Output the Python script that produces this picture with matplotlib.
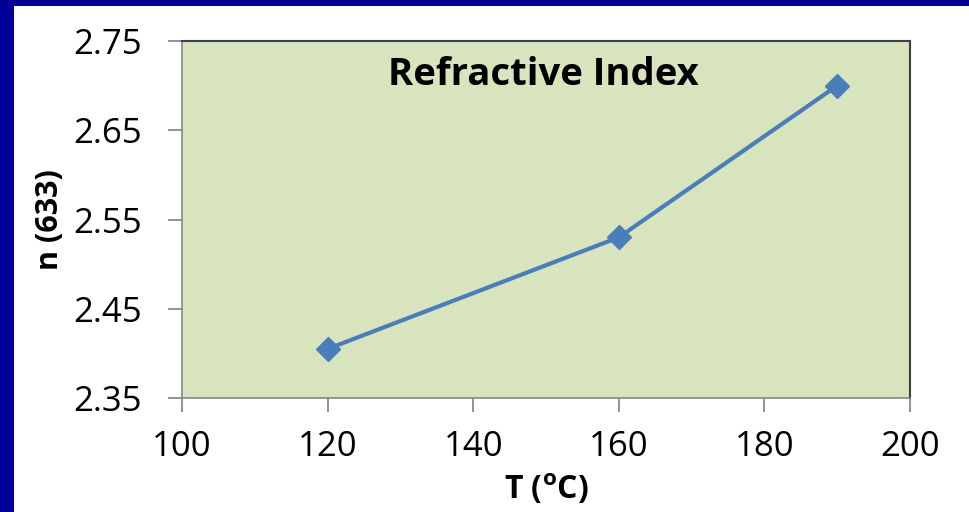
import matplotlib
matplotlib.use("Agg")
import matplotlib.pyplot as plt
from matplotlib.patches import Rectangle

# data
temps = [120, 160, 190]
n_633 = [2.405, 2.53, 2.70]
x_ticks = [100, 120, 140, 160, 180, 200]
y_ticks = [2.35, 2.45, 2.55, 2.65, 2.75]

plt.rcParams['font.family'] = ['Open Sans', 'DejaVu Sans']
plt.rcParams['mathtext.default'] = 'regular'

W, H = 969, 512
fig = plt.figure(figsize=(W / 100, H / 100), dpi=100)
fig.patch.set_facecolor('#000099')
# white slide area inside the blue border
fig.patches.append(Rectangle((14 / W, 0), 1 - 14 / W, (H - 6) / H,
                             transform=fig.transFigure, facecolor='white',
                             edgecolor='none', zorder=-5))

ax = fig.add_axes([182 / W, 1 - 398 / H, (910 - 182) / W, (398 - 41) / H])
ax.set_zorder(2)
ax.set_facecolor('#D7E4BD')
ax.plot(temps, n_633, color='#4A7EBB', lw=3, marker='D', ms=12,
        markerfacecolor='#4A7EBB', markeredgecolor='#4A7EBB', clip_on=False)

ax.set_xlim(100, 200)
ax.set_ylim(2.35, 2.75)
ax.set_xticks(x_ticks)
ax.set_yticks(y_ticks)
ax.set_yticklabels([f'{v:.2f}' for v in y_ticks])
ax.tick_params(axis='both', labelsize=25, colors='#808080', labelcolor='black',
               length=10, width=1.2, direction='out')
ax.tick_params(axis='y', pad=19)
ax.tick_params(axis='x', pad=13)

for s in ['left', 'bottom']:
    ax.spines[s].set_color('#868686')
    ax.spines[s].set_linewidth(1.2)
for s in ['top', 'right']:
    ax.spines[s].set_color('#404040')
    ax.spines[s].set_linewidth(1.5)

ax.text(0.497, 0.905, 'Refractive Index', transform=ax.transAxes,
        ha='center', va='center', fontsize=27.5, fontweight='bold')

fig.text(50 / W, 1 - 220 / H, 'n (633)', rotation=90, ha='center', va='center',
         fontsize=22, fontweight='bold')
fig.text(546 / W, 1 - 490 / H, r'T ($^{o}$C)', ha='center', va='center',
         fontsize=23, fontweight='bold')

fig.savefig('out.png', dpi=100, facecolor=fig.get_facecolor())
